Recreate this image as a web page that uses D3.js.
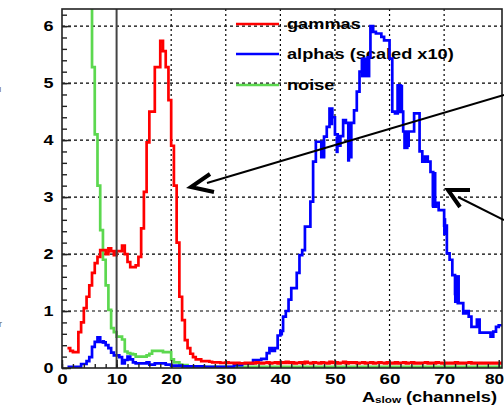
<!DOCTYPE html>
<html>
<head>
<meta charset="utf-8">
<script src="https://cdn.jsdelivr.net/npm/d3@7"></script>
<style>
  body { margin: 0; background: #fff; }
  svg { display: block; font-family: "Liberation Sans", Arial, sans-serif; }
</style>
</head>
<body>
<div id="chart"></div>
<script>
// histogram binning (channels)
const binLow = 1.0
const binWidth = 0.5

const gammas = [
    0.35, 0.30, 0.28, 0.28, 0.63, 0.80, 1.05, 1.25, 1.45, 1.67,
    1.84, 1.95, 2.07, 2.07, 2.00, 2.10, 2.05, 1.98, 2.05, 2.05,
    2.15, 2.00, 1.86, 1.77, 1.77, 1.80, 1.95, 2.45, 3.09, 3.96,
    4.50, 4.50, 5.28, 5.28, 5.74, 5.56, 5.28, 4.70, 3.90, 3.20,
    2.20, 1.25, 0.84, 0.49, 0.35, 0.25, 0.19, 0.15, 0.15, 0.12,
    0.12, 0.12, 0.11, 0.10, 0.10, 0.10, 0.09, 0.09, 0.10, 0.09,
    0.09, 0.08, 0.09, 0.08, 0.08, 0.09, 0.08, 0.09, 0.08, 0.10,
    0.09, 0.08, 0.09, 0.10, 0.08, 0.09, 0.10, 0.08, 0.10, 0.09,
    0.11, 0.09, 0.10, 0.08, 0.09, 0.10, 0.08, 0.11, 0.09, 0.08,
    0.10, 0.09, 0.08, 0.10, 0.09, 0.08, 0.11, 0.09, 0.10, 0.08,
    0.09, 0.11, 0.08, 0.10, 0.09, 0.10, 0.08, 0.09, 0.10, 0.08,
    0.09, 0.10, 0.08, 0.09, 0.10, 0.09, 0.08, 0.10, 0.09, 0.08,
    0.10, 0.08, 0.09, 0.10, 0.08, 0.09, 0.10, 0.08, 0.09, 0.08,
    0.09, 0.10, 0.08, 0.09, 0.08, 0.10, 0.09, 0.08, 0.09, 0.08,
    0.09, 0.08, 0.10, 0.08, 0.09, 0.08, 0.09, 0.10, 0.08, 0.09,
    0.08, 0.09, 0.08, 0.09, 0.08, 0.09, 0.08, 0.09, 0.08, 0.09
]

// alphas, already scaled x10
const alphas = [
    0.02, 0.02, 0.02, 0.02, 0.02, 0.07, 0.07, 0.12, 0.19, 0.37,
    0.46, 0.54, 0.46, 0.45, 0.40, 0.35, 0.27, 0.22, 0.22, 0.19,
    0.08, 0.14, 0.20, 0.15, 0.10, 0.08, 0.08, 0.08, 0.08, 0.10,
    0.06, 0.06, 0.08, 0.08, 0.08, 0.08, 0.06, 0.06, 0.04, 0.04,
    0.04, 0.04, 0.03, 0.03, 0.03, 0.03, 0.03, 0.03, 0.03, 0.03,
    0.02, 0.02, 0.02, 0.02, 0.02, 0.02, 0.02, 0.02, 0.02, 0.02,
    0.02, 0.05, 0.05, 0.05, 0.08, 0.08, 0.08, 0.08, 0.14, 0.14,
    0.14, 0.16, 0.16, 0.26, 0.35, 0.30, 0.35, 0.57, 0.65, 0.90,
    1.00, 1.20, 1.40, 1.40, 1.67, 1.98, 2.07, 2.48, 2.48, 2.92,
    3.62, 3.97, 3.97, 3.70, 4.06, 4.23, 4.55, 4.40, 4.10, 3.90,
    4.07, 4.35, 4.30, 3.70, 4.30, 4.52, 4.85, 5.20, 5.40, 5.30,
    5.45, 6.00, 5.90, 5.87, 5.87, 5.81, 5.75, 5.75, 5.43, 4.50,
    4.47, 4.96, 4.50, 4.15, 3.90, 4.15, 4.15, 4.47, 4.47, 3.80,
    3.62, 3.71, 3.62, 3.44, 2.83, 2.90, 2.77, 2.77, 2.50, 2.01,
    1.90, 1.63, 1.30, 1.14, 1.14, 0.96, 1.00, 0.90, 0.72, 0.72,
    0.85, 0.62, 0.62, 0.62, 0.62, 0.55, 0.64, 0.72, 0.75, 0.75
]

// spots where the alpha histogram flickers between two levels (drawn solid)
// [channel from, channel to, low, high]
const alphaFlicker = [
    [7.3, 7.9, 0.43, 0.49],
    [39.9, 40.5, 0.57, 0.65],
    [47.6, 48.2, 3.70, 3.97],
    [49.0, 49.7, 4.26, 4.55],
    [50.1, 50.7, 3.77, 4.06],
    [52.2, 52.8, 3.62, 4.30],
    [54.7, 56.5, 5.10, 5.45],
    [61.3, 62.5, 4.47, 4.97],
    [62.5, 63.5, 3.84, 4.15],
    [66.5, 67.1, 3.62, 3.71],
    [67.7, 68.6, 2.83, 3.44],
    [69.8, 70.4, 2.33, 2.63],
    [71.8, 72.9, 1.14, 1.63],
    [74.1, 74.7, 0.96, 1.00],
    [75.9, 76.6, 0.72, 0.85]
]

const noise = [
    7.00, 7.00, 7.00, 7.00, 7.00, 7.00, 7.00, 7.00, 7.00, 5.28,
    4.10, 3.20, 2.42, 1.90, 1.45, 1.02, 0.70, 0.63, 0.55, 0.55,
    0.50, 0.29, 0.26, 0.25, 0.24, 0.20, 0.20, 0.20, 0.20, 0.22,
    0.25, 0.30, 0.30, 0.30, 0.30, 0.28, 0.28, 0.28, 0.15, 0.10,
    0.10, 0.06, 0.05, 0.05, 0.03, 0.03, 0.03, 0.03, 0.02, 0.02,
    0.02, 0.02, 0.02, 0.02, 0.02, 0.02, 0.02, 0.02, 0.02, 0.02,
    0.02, 0.02, 0.02, 0.02, 0.02, 0.02, 0.02, 0.02, 0.02, 0.02,
    0.02, 0.02, 0.02, 0.02, 0.02, 0.02, 0.02, 0.02, 0.02, 0.02,
    0.02, 0.02, 0.02, 0.02, 0.02, 0.02, 0.02, 0.02, 0.02, 0.02,
    0.02, 0.02, 0.02, 0.02, 0.02, 0.02, 0.02, 0.02, 0.02, 0.02,
    0.02, 0.02, 0.02, 0.02, 0.02, 0.02, 0.02, 0.02, 0.02, 0.02,
    0.02, 0.02, 0.02, 0.02, 0.02, 0.02, 0.02, 0.02, 0.02, 0.02,
    0.02, 0.02, 0.02, 0.02, 0.02, 0.02, 0.02, 0.02, 0.02, 0.02,
    0.02, 0.02, 0.02, 0.02, 0.02, 0.02, 0.02, 0.02, 0.02, 0.02,
    0.02, 0.02, 0.02, 0.02, 0.02, 0.02, 0.02, 0.02, 0.02, 0.02,
    0.02, 0.02, 0.02, 0.02, 0.02, 0.02, 0.02, 0.02, 0.02, 0.02
]

const seriesNames = ["gammas", "alphas (scaled x10)", "noise"]
const seriesColors = ["#ff0000", "#0000ff", "#5cd84f"]

const xTicks = [0, 10, 20, 30, 40, 50, 60, 70, 80]
const yTicks = [0, 1, 2, 3, 4, 5, 6]
const xMinorTicks = d3.range(0, 81, 2)
const yMinorTicks = d3.range(0, 32).map(i => i / 5)

const thresholdChannel = 10

const W = 504, H = 406
const frame = {left: 62, right: 502, top: 9, bottom: 368}
const textStretch = 1.3

const svg = d3.select("#chart").append("svg")
    .attr("width", W)
    .attr("height", H)

const x = d3.scaleLinear().domain([0, 80.6]).range([frame.left, frame.right])
const y = d3.scaleLinear().domain([0, 6.3]).range([frame.bottom, frame.top])

svg.append("defs").append("clipPath")
    .attr("id", "plot-clip")
  .append("rect")
    .attr("x", frame.left)
    .attr("y", frame.top)
    .attr("width", frame.right - frame.left)
    .attr("height", frame.bottom - frame.top)

// dotted grid
const grid = svg.append("g")
grid.selectAll("line.gx")
    .data(xTicks.filter(v => v > 0 && v < 80 && v !== thresholdChannel))
    .join("line")
    .attr("x1", d => x(d)).attr("x2", d => x(d))
    .attr("y1", frame.top).attr("y2", frame.bottom)
    .attr("stroke", "#000")
    .attr("stroke-width", 1.2)
    .attr("stroke-dasharray", "2,3")
grid.selectAll("line.gy")
    .data(yTicks.filter(v => v > 0))
    .join("line")
    .attr("x1", frame.left).attr("x2", frame.right)
    .attr("y1", d => y(d)).attr("y2", d => y(d))
    .attr("stroke", "#000")
    .attr("stroke-width", 1.2)
    .attr("stroke-dasharray", "3,3")

// legend (under the histograms, like the original)
const legend = svg.append("g")
const legendY = [24, 54, 85]
seriesNames.forEach((name, i) => {
    legend.append("line")
        .attr("x1", 236).attr("x2", 279)
        .attr("y1", legendY[i]).attr("y2", legendY[i])
        .attr("stroke", seriesColors[i])
        .attr("stroke-width", 2.5)
    legend.append("text")
        .attr("transform", `translate(287,${legendY[i] + 5}) scale(${textStretch},1)`)
        .attr("font-size", 14)
        .attr("font-weight", "bold")
        .text(name)
})

// histograms
const line = d3.line()
    .x(d => x(d[0]))
    .y(d => y(d[1]))
    .curve(d3.curveStepAfter)

function histPoints(values) {
    const pts = values.map((v, i) => [binLow + i * binWidth, v])
    pts.push([binLow + values.length * binWidth, values[values.length - 1]])
    return pts
}

const plot = svg.append("g").attr("clip-path", "url(#plot-clip)")
;[noise, alphas, gammas].forEach((vals, k) => {
    const idx = [2, 1, 0][k]
    plot.append("path")
        .datum(histPoints(vals))
        .attr("d", line)
        .attr("fill", "none")
        .attr("stroke", seriesColors[idx])
        .attr("stroke-width", 2.7)
        .attr("stroke-linejoin", "miter")
    if (idx === 1) {
        plot.selectAll("rect.flicker")
            .data(alphaFlicker)
            .join("rect")
            .attr("class", "flicker")
            .attr("x", d => x(d[0]))
            .attr("width", d => x(d[1]) - x(d[0]))
            .attr("y", d => y(d[3]))
            .attr("height", d => y(d[2]) - y(d[3]))
            .attr("fill", seriesColors[1])
    }
})

// threshold line at 10 channels
svg.append("line")
    .attr("x1", x(thresholdChannel)).attr("x2", x(thresholdChannel))
    .attr("y1", frame.top).attr("y2", frame.bottom)
    .attr("stroke", "#444")
    .attr("stroke-width", 2)

// frame
svg.append("rect")
    .attr("x", frame.left).attr("y", frame.top)
    .attr("width", frame.right - frame.left)
    .attr("height", frame.bottom - frame.top)
    .attr("fill", "none")
    .attr("stroke", "#222")
    .attr("stroke-width", 1.6)

// axes, ticks pointing inwards
const yAxis = svg.append("g")
    .attr("transform", `translate(${frame.left},0)`)
    .call(d3.axisLeft(y).tickValues(yTicks).tickSize(-9).tickPadding(7).tickFormat(d3.format("d")))
svg.append("g")
    .attr("transform", `translate(${frame.left},0)`)
    .call(d3.axisLeft(y).tickValues(yMinorTicks).tickSize(-5).tickFormat(""))

const xAxis = svg.append("g")
    .attr("transform", `translate(0,${frame.bottom})`)
    .call(d3.axisBottom(x).tickValues(xTicks).tickSize(-8).tickPadding(5).tickFormat(d3.format("d")))
svg.append("g")
    .attr("transform", `translate(0,${frame.bottom})`)
    .call(d3.axisBottom(x).tickValues(xMinorTicks).tickSize(-4).tickFormat(""))

svg.selectAll(".domain").remove()
svg.selectAll(".tick line").attr("stroke", "#222").attr("stroke-width", 1.4)
svg.selectAll(".tick text")
    .attr("font-size", 15)
    .attr("font-weight", "bold")
    .attr("font-family", "Liberation Sans, Arial, sans-serif")
    .attr("fill", "#000")
yAxis.selectAll(".tick text").attr("transform", `scale(1.2,1)`)
xAxis.selectAll(".tick text").attr("transform", `scale(1.25,1)`)
// last label sits against the window edge: pull it in a little
xAxis.selectAll(".tick text").filter(d => d === 80)
    .attr("transform", "scale(1.15,1)")
    .attr("x", -4)

// axis title: A_slow (channels)
const title = svg.append("text")
    .attr("transform", `translate(497,402) scale(${textStretch},1)`)
    .attr("text-anchor", "end")
    .attr("font-size", 14)
    .attr("font-weight", "bold")
title.append("tspan").text("A")
title.append("tspan").attr("font-size", 9).attr("dy", 1).text("slow")
title.append("tspan").attr("dy", -1).text(" (channels)")

// annotation arrows drawn on top of the picture
const notes = svg.append("g").attr("stroke", "#000").attr("fill", "none")
notes.append("line")
    .attr("x1", 207).attr("y1", 183)
    .attr("x2", 504).attr("y2", 95)
    .attr("stroke-width", 2)
notes.append("polyline")
    .attr("points", "210,174 191,187 214,192")
    .attr("stroke-width", 4)
notes.append("line")
    .attr("x1", 458).attr("y1", 197)
    .attr("x2", 504).attr("y2", 220)
    .attr("stroke-width", 2)
notes.append("polyline")
    .attr("points", "470,190 448,190 460,207")
    .attr("stroke-width", 4)

// stray letters cut off at the left edge of the original figure
svg.append("text").attr("x", -1).attr("y", 92).attr("font-size", 9).attr("fill", "#666").text("ı")
svg.append("text").attr("x", -1).attr("y", 327).attr("font-size", 9).attr("fill", "#666").text("r")
</script>
</body>
</html>
